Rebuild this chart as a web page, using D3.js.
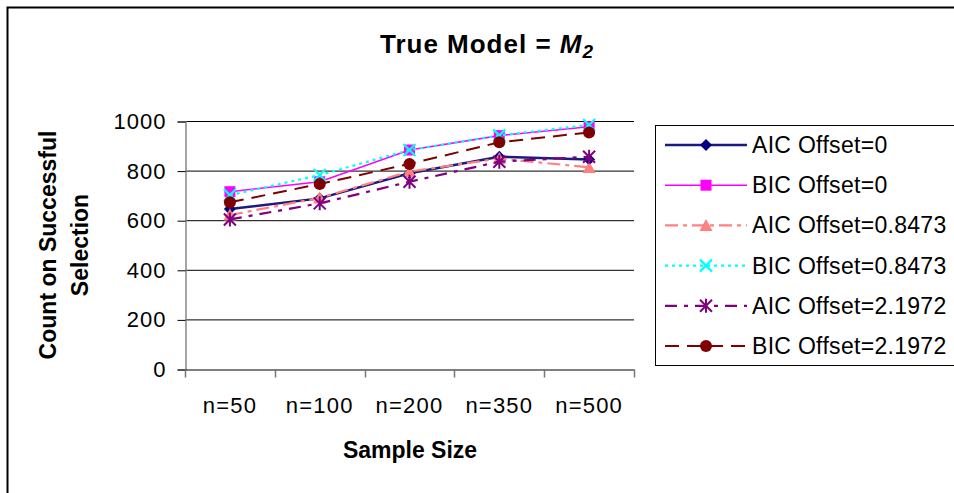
<!DOCTYPE html>
<html>
<head>
<meta charset="utf-8">
<script src="https://d3js.org/d3.v7.min.js"></script>
<style>
  body { margin: 0; background: #fff; }
  svg { font-family: Arial, "Liberation Sans", sans-serif; }
</style>
</head>
<body>
<svg id="chart" width="954" height="493"></svg>
<script>
var sizes = ["n=50", "n=100", "n=200", "n=350", "n=500"];
var yTicks = [0, 200, 400, 600, 800, 1000];

var aic0    = [645, 688, 789, 856, 845];
var bic0    = [715, 755, 883, 941, 977];
var aic0847 = [621, 690, 796, 849, 813];
var bic0847 = [701, 782, 883, 942, 984];
var aic2197 = [603, 668, 755, 836, 856];
var bic2197 = [672, 746, 827, 914, 954];

var seriesNames = ["AIC Offset=0", "BIC Offset=0", "AIC Offset=0.8473",
                   "BIC Offset=0.8473", "AIC Offset=2.1972", "BIC Offset=2.1972"];
var seriesValues = [aic0, bic0, aic0847, bic0847, aic2197, bic2197];

// look of each series (colour, dash, marker)
var styles = [
  {color: "#1a1a80", dash: null,          width: 2.5, marker: "diamond"},
  {color: "#ff00ff", dash: null,          width: 1.6, marker: "square"},
  {color: "#ff8080", dash: "13,5,4,5",    width: 2.2, marker: "triangle"},
  {color: "#00ffff", dash: "3,4",         width: 2.2, marker: "x"},
  {color: "#800080", dash: "12,7,4,7",    width: 2.2, marker: "star"},
  {color: "#800000", dash: "14,8",        width: 2,   marker: "circle"}
];

var svg = d3.select("#chart");

// outer frame
svg.append("path")
    .attr("d", "M7.5,493 V7.5 H954")
    .attr("fill", "none")
    .attr("stroke", "#000")
    .attr("stroke-width", 2);

var margin = {left: 185, top: 121, right: 634, bottom: 369};

var x = d3.scaleBand()
    .domain(sizes)
    .range([margin.left, margin.right]);

var y = d3.scaleLinear()
    .domain([0, 1000])
    .range([margin.bottom, margin.top]);

// gridlines
svg.append("g")
  .selectAll("line")
  .data(yTicks.slice(1))
  .join("line")
    .attr("x1", margin.left)
    .attr("x2", margin.right)
    .attr("y1", function(d) { return y(d) + 0.5; })
    .attr("y2", function(d) { return y(d) + 0.5; })
    .attr("stroke", "#000")
    .attr("stroke-width", 1);

// y axis
var yAxis = svg.append("g")
    .attr("transform", "translate(" + (margin.left + 0.5) + ",0.5)")
    .call(d3.axisLeft(y).tickValues(yTicks).tickFormat(d3.format("d")).tickSize(8).tickPadding(11));
yAxis.select(".domain").attr("stroke", "#888").attr("stroke-width", 1.5);
yAxis.selectAll(".tick line").attr("stroke", "#000");
yAxis.selectAll("text").attr("font-size", 22).attr("fill", "#000")
    .attr("letter-spacing", 1)
    .attr("font-family", "Arial, 'Liberation Sans', sans-serif");

// x axis
var xAxis = svg.append("g")
    .attr("transform", "translate(0," + (margin.bottom + 0.5) + ")")
    .call(d3.axisBottom(x).tickSize(0).tickPadding(28));
xAxis.select(".domain").attr("stroke", "#000");
xAxis.selectAll("text").attr("font-size", 22).attr("fill", "#000")
    .attr("letter-spacing", 1.2)
    .attr("font-family", "Arial, 'Liberation Sans', sans-serif");
// category separator ticks
xAxis.selectAll(".sep")
  .data(sizes.concat(["end"]))
  .join("line")
    .attr("class", "sep")
    .attr("x1", function(d, i) { return Math.round(margin.left + i * x.bandwidth()) + 0.5; })
    .attr("x2", function(d, i) { return Math.round(margin.left + i * x.bandwidth()) + 0.5; })
    .attr("y1", 0)
    .attr("y2", 8)
    .attr("stroke", "#777")
    .attr("stroke-width", 1.5);

// titles
svg.append("text")
    .attr("x", 487).attr("y", 53)
    .attr("text-anchor", "middle")
    .attr("font-size", 26).attr("font-weight", "bold")
    .attr("letter-spacing", 1)
    .html("True Model = <tspan font-style='italic'>M</tspan><tspan font-style='italic' font-size='19' dy='5'>2</tspan>");

svg.append("text")
    .attr("x", 410).attr("y", 458)
    .attr("text-anchor", "middle")
    .attr("font-size", 23).attr("font-weight", "bold")
    .text("Sample Size");

var yl = svg.append("text")
    .attr("transform", "translate(48,245) rotate(-90)")
    .attr("text-anchor", "middle")
    .attr("font-size", 23).attr("font-weight", "bold");
yl.append("tspan").attr("x", 0).attr("dy", 8).text("Count on Successful");
yl.append("tspan").attr("x", 0).attr("dy", 32).text("Selection");

// marker drawing
function drawMarker(g, type, color) {
  if (type === "diamond") {
    g.append("path").attr("d", "M0,-6 L6,0 L0,6 L-6,0 Z").attr("fill", "#000080");
  } else if (type === "square") {
    g.append("rect").attr("x", -5.5).attr("y", -5.5).attr("width", 11).attr("height", 11)
      .attr("fill", color);
  } else if (type === "triangle") {
    g.append("path").attr("d", "M0,-6.5 L6.5,5.5 L-6.5,5.5 Z").attr("fill", color);
  } else if (type === "x") {
    g.append("path").attr("d", "M-6,-6 L6,6 M-6,6 L6,-6")
      .attr("stroke", color).attr("stroke-width", 2.2).attr("fill", "none");
  } else if (type === "star") {
    g.append("path").attr("d", "M-6,-6 L6,6 M-6,6 L6,-6 M0,-7 L0,7")
      .attr("stroke", color).attr("stroke-width", 2).attr("fill", "none");
  } else if (type === "circle") {
    g.append("circle").attr("r", 6).attr("fill", color);
  }
}

var line = d3.line()
    .x(function(d, i) { return x(sizes[i]) + x.bandwidth() / 2; })
    .y(function(d) { return y(d); });

seriesValues.forEach(function(vals, s) {
  var st = styles[s];
  svg.append("path")
      .datum(vals)
      .attr("fill", "none")
      .attr("stroke", st.color)
      .attr("stroke-width", st.width)
      .attr("stroke-dasharray", st.dash)
      .attr("d", line);
  svg.append("g").selectAll("g")
    .data(vals)
    .join("g")
      .attr("transform", function(d, i) {
        return "translate(" + (x(sizes[i]) + x.bandwidth() / 2) + "," + y(d) + ")";
      })
      .each(function() { drawMarker(d3.select(this), st.marker, st.color); });
});

// legend
var legend = svg.append("g");
legend.append("rect")
    .attr("x", 655.5).attr("y", 125.5)
    .attr("width", 310).attr("height", 240)
    .attr("fill", "#fff").attr("stroke", "#000");

var rowY = d3.scalePoint().domain(seriesNames).range([145, 346]);

seriesNames.forEach(function(name, s) {
  var st = styles[s];
  var ry = rowY(name);
  var row = legend.append("g");
  row.append("line")
      .attr("x1", 665).attr("x2", 747)
      .attr("y1", ry).attr("y2", ry)
      .attr("stroke", st.color)
      .attr("stroke-width", st.width)
      .attr("stroke-dasharray", st.dash);
  var m = row.append("g").attr("transform", "translate(706," + ry + ")");
  drawMarker(m, st.marker, st.color);
  row.append("text")
      .attr("x", 752).attr("y", ry + 8)
      .attr("font-size", 23)
      .attr("letter-spacing", 0.3)
      .attr("fill", "#000")
      .text(name);
});
</script>
</body>
</html>
